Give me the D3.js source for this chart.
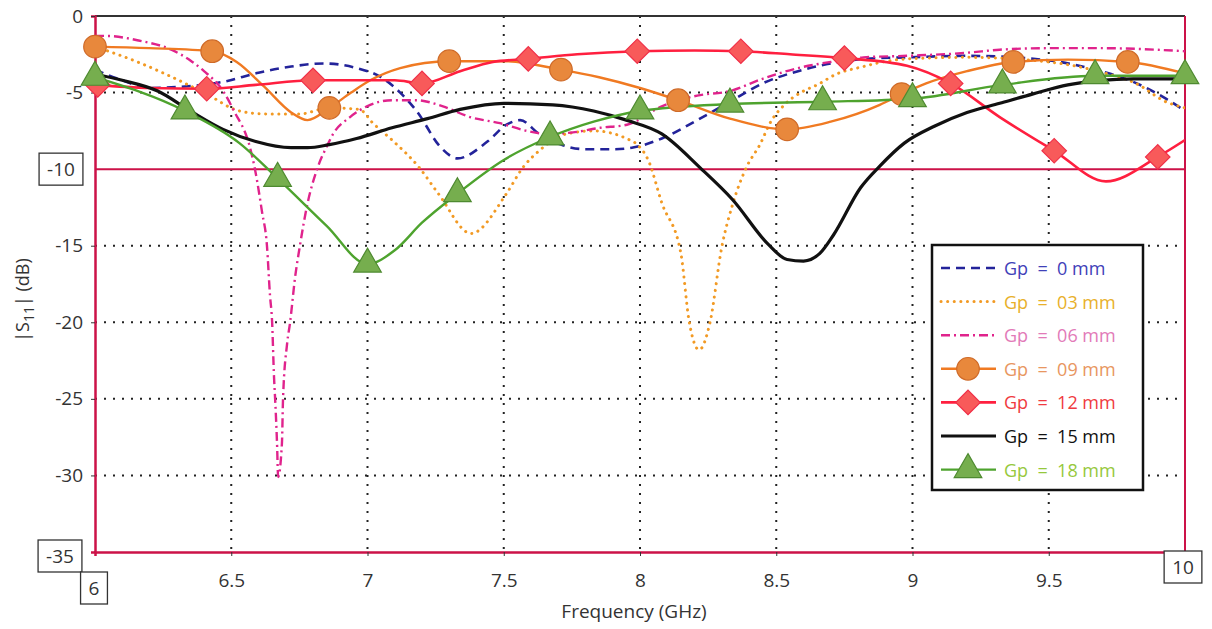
<!DOCTYPE html>
<html>
<head>
<meta charset="utf-8">
<script src="https://cdn.jsdelivr.net/npm/d3@7"></script>
<style>
  body { margin: 0; background: #fff; }
  text { font-family: "Open Sans", sans-serif; }
</style>
</head>
<body>
<svg width="1212" height="629"></svg>
<script>
// tick labels
const freqTicks = [6.5, 7, 7.5, 8, 8.5, 9, 9.5];
const dbTicks = [0, -5, -15, -20, -25, -30];
const boxedDb = [-10, -35];
const boxedFreq = [6, 10];

// series, [frequency GHz, |S11| dB]
const gp0 = [[6.0,-3.5],[6.1,-4.2],[6.2,-4.7],[6.33,-4.6],[6.47,-4.3],[6.6,-3.7],[6.72,-3.3],[6.84,-3.1],[6.96,-3.4],[7.05,-4.0],[7.12,-5.0],[7.18,-6.2],[7.27,-8.6],[7.33,-9.3],[7.44,-8.2],[7.51,-7.1],[7.56,-6.8],[7.63,-7.7],[7.71,-8.4],[7.8,-8.7],[7.9,-8.7],[7.97,-8.6],[8.08,-8.0],[8.21,-6.8],[8.33,-5.6],[8.45,-4.4],[8.58,-3.6],[8.7,-3.1],[8.82,-2.8],[8.98,-2.7],[9.2,-2.6],[9.5,-2.9],[9.69,-3.6],[9.81,-4.3],[9.93,-5.4],[10.0,-6.2]];
const gp3 = [[6.0,-2.0],[6.17,-3.1],[6.26,-3.8],[6.41,-5.1],[6.53,-6.2],[6.63,-6.4],[6.75,-6.4],[6.86,-6.0],[6.97,-6.1],[7.02,-7.0],[7.09,-8.1],[7.19,-9.9],[7.26,-11.6],[7.38,-14.2],[7.51,-11.6],[7.57,-9.9],[7.63,-8.8],[7.73,-7.7],[7.83,-7.5],[7.95,-8.0],[7.99,-8.4],[8.03,-9.4],[8.08,-12.2],[8.15,-15.5],[8.18,-19.9],[8.217,-21.8],[8.257,-20.0],[8.3,-15.1],[8.34,-12.3],[8.39,-9.9],[8.44,-8.4],[8.48,-6.9],[8.53,-5.8],[8.6,-4.9],[8.65,-4.5],[8.72,-3.8],[8.82,-3.3],[8.89,-3.0],[8.98,-2.8],[9.2,-2.7],[9.5,-3.0],[9.7,-3.7],[9.82,-4.4],[9.93,-5.6],[10.0,-6.0]];
const gp6 = [[6.0,-1.3],[6.04,-1.3],[6.16,-1.6],[6.28,-2.2],[6.35,-2.9],[6.4,-3.6],[6.47,-4.9],[6.51,-6.2],[6.569,-8.6],[6.587,-10],[6.613,-12.8],[6.631,-15],[6.642,-18.2],[6.65,-20],[6.657,-23.6],[6.661,-25],[6.668,-27.9],[6.672,-30.1],[6.686,-27.9],[6.69,-25],[6.705,-21.4],[6.716,-20],[6.734,-17.1],[6.752,-15],[6.778,-12.4],[6.815,-10],[6.851,-8.5],[6.874,-7.7],[6.936,-6.6],[6.998,-5.9],[7.09,-5.5],[7.18,-5.5],[7.277,-5.9],[7.376,-6.6],[7.486,-7.0],[7.585,-7.5],[7.659,-7.7],[7.754,-7.6],[7.853,-7.3],[7.952,-7.1],[8.08,-5.9],[8.21,-5.2],[8.33,-4.9],[8.45,-4.1],[8.58,-3.4],[8.7,-3.0],[8.82,-2.7],[8.98,-2.6],[9.2,-2.4],[9.32,-2.2],[9.5,-2.1],[9.69,-2.1],[10.0,-2.3]];
const gp9 = [[6.0,-2.0],[6.2,-2.1],[6.43,-2.3],[6.52,-3.0],[6.62,-4.6],[6.72,-6.3],[6.78,-6.8],[6.86,-6.0],[6.94,-5.0],[7.01,-4.2],[7.12,-3.4],[7.3,-2.95],[7.5,-2.95],[7.71,-3.5],[7.85,-4.0],[8.0,-4.7],[8.14,-5.5],[8.33,-6.7],[8.54,-7.4],[8.7,-6.9],[8.88,-5.8],[8.96,-5.1],[9.05,-4.4],[9.2,-3.6],[9.37,-3.0],[9.57,-2.85],[9.79,-3.0],[10.0,-3.75]];
const gp9Marks = [[6.0,-2.0],[6.43,-2.3],[6.86,-6.0],[7.3,-2.95],[7.71,-3.5],[8.14,-5.5],[8.54,-7.4],[8.96,-5.1],[9.37,-3.0],[9.79,-3.0]];
const gp12 = [[6.0,-4.5],[6.2,-4.7],[6.41,-4.75],[6.59,-4.5],[6.8,-4.2],[7.01,-4.2],[7.1,-4.2],[7.2,-4.4],[7.34,-3.6],[7.46,-3.0],[7.59,-2.8],[7.77,-2.5],[7.99,-2.3],[8.2,-2.25],[8.37,-2.3],[8.55,-2.5],[8.75,-2.75],[8.98,-3.25],[9.14,-4.4],[9.32,-6.6],[9.52,-8.8],[9.71,-10.8],[9.9,-9.2],[10.0,-8.1]];
const gp12Marks = [[6.01,-4.5],[6.41,-4.75],[6.8,-4.2],[7.2,-4.4],[7.59,-2.8],[7.99,-2.3],[8.37,-2.3],[8.75,-2.75],[9.14,-4.4],[9.52,-8.8],[9.9,-9.2]];
const gp15 = [[6.0,-3.8],[6.1,-4.2],[6.23,-4.9],[6.35,-6.2],[6.47,-7.4],[6.59,-8.2],[6.72,-8.6],[6.78,-8.6],[6.86,-8.4],[6.96,-8.0],[7.09,-7.3],[7.22,-6.7],[7.34,-6.1],[7.5,-5.7],[7.68,-5.8],[7.83,-6.2],[7.95,-6.8],[8.08,-7.7],[8.22,-9.9],[8.34,-12.0],[8.47,-14.9],[8.54,-15.9],[8.6,-16.0],[8.66,-15.5],[8.71,-14.3],[8.81,-11.2],[8.88,-9.8],[8.97,-8.3],[9.08,-7.2],[9.2,-6.3],[9.32,-5.7],[9.44,-5.1],[9.57,-4.5],[9.69,-4.2],[9.81,-4.1],[10.0,-4.1]];
const gp18 = [[6.0,-4.0],[6.33,-6.2],[6.53,-8.3],[6.67,-10.6],[6.85,-13.7],[7.0,-16.2],[7.1,-15.3],[7.2,-13.5],[7.33,-11.6],[7.5,-9.4],[7.67,-7.9],[7.83,-6.9],[8.0,-6.2],[8.33,-5.75],[8.67,-5.6],[9.0,-5.4],[9.33,-4.5],[9.67,-3.9],[10.0,-3.9]];
const gp18Marks = [[6.0,-4.0],[6.33,-6.2],[6.67,-10.6],[7.0,-16.2],[7.33,-11.6],[7.67,-7.9],[8.0,-6.2],[8.33,-5.75],[8.67,-5.6],[9.0,-5.4],[9.33,-4.5],[9.67,-3.9],[10.0,-3.9]];

const legendLabels = ["Gp = 0 mm", "Gp = 03 mm", "Gp = 06 mm", "Gp = 09 mm", "Gp = 12 mm", "Gp = 15 mm", "Gp = 18 mm"];

const series = [
  {name: legendLabels[0], pts: gp0, color: "#23239a", text: "#4040b8", dash: "9,6", w: 2.6},
  {name: legendLabels[1], pts: gp3, color: "#f29a24", text: "#e8b02a", dash: "0.1,6.5", w: 3, cap: "round"},
  {name: legendLabels[2], pts: gp6, color: "#e0238c", text: "#e27ab8", dash: "9,4,2,4", w: 2.4},
  {name: legendLabels[3], pts: gp9, marks: gp9Marks, shape: "circle", color: "#f07a22", fill: "#e8883c", edge: "#cf6a28", text: "#e89660", w: 2.4},
  {name: legendLabels[4], pts: gp12, marks: gp12Marks, shape: "diamond", color: "#ff1f3f", fill: "#f85a5a", edge: "#f03048", text: "#f03a40", w: 2.6},
  {name: legendLabels[5], pts: gp15, color: "#111", text: "#111", w: 3.2},
  {name: legendLabels[6], pts: gp18, marks: gp18Marks, shape: "triangle", color: "#4ea32e", fill: "#76ae4e", edge: "#4e8a30", text: "#96c83c", w: 2.4}
];

const svg = d3.select("svg");
const margin = {top: 16, right: 27, bottom: 77, left: 95};
const width = 1212 - margin.left - margin.right;
const height = 629 - margin.top - margin.bottom;
const g = svg.append("g").attr("transform", "translate(" + margin.left + "," + margin.top + ")");
const axisRed = "#cc1248";

const x = d3.scaleLinear().domain([6, 10]).range([0, width]);
const y = d3.scaleLinear().domain([-35, 0]).range([height, 0]);

// dotted grid
g.append("g")
  .selectAll("line").data(freqTicks).enter().append("line")
  .attr("x1", d => x(d)).attr("x2", d => x(d))
  .attr("y1", 0).attr("y2", height)
  .attr("stroke", "#222").attr("stroke-width", 2).attr("stroke-dasharray", "2,7");
g.append("g")
  .selectAll("line").data(dbTicks.filter(d => d !== 0)).enter().append("line")
  .attr("x1", 0).attr("x2", width)
  .attr("y1", d => y(d)).attr("y2", d => y(d))
  .attr("stroke", "#222").attr("stroke-width", 2).attr("stroke-dasharray", "2,7");

// frame
g.append("line").attr("x1", 0).attr("x2", width).attr("y1", y(0)).attr("y2", y(0))
  .attr("stroke", "#333").attr("stroke-width", 2);
g.append("line").attr("x1", 0).attr("x2", width).attr("y1", y(-10)).attr("y2", y(-10))
  .attr("stroke", axisRed).attr("stroke-width", 2);
g.append("line").attr("x1", width).attr("x2", width).attr("y1", 0).attr("y2", height)
  .attr("stroke", axisRed).attr("stroke-width", 2);

// axes
const yAxis = g.append("g")
  .call(d3.axisLeft(y).tickValues(dbTicks).tickSize(4).tickPadding(8).tickFormat(d => d));
const xAxis = g.append("g")
  .attr("transform", "translate(0," + height + ")")
  .call(d3.axisBottom(x).tickValues(freqTicks).tickSize(4).tickPadding(18).tickFormat(d => d));
[yAxis, xAxis].forEach(a => {
  a.select(".domain").attr("stroke", axisRed).attr("stroke-width", 2.5);
  a.selectAll(".tick line").attr("stroke", "#333");
  a.selectAll(".tick text").attr("fill", "#333").style("font-size", "19px")
    .style("font-family", "'Open Sans', sans-serif");
});

// boxed end labels
function boxLabel(px, py, label) {
  const t = g.append("text").attr("x", px).attr("y", py)
    .attr("text-anchor", "middle").attr("dominant-baseline", "central")
    .attr("fill", "#333").style("font-size", "19px").text(label);
  const b = t.node().getBBox();
  g.insert("rect", () => t.node())
    .attr("x", b.x - 8).attr("y", b.y - 3)
    .attr("width", b.width + 16).attr("height", b.height + 6)
    .attr("fill", "#fff").attr("stroke", "#333").attr("stroke-width", 1.3);
}
boxLabel(-34, y(boxedDb[0]), boxedDb[0]);
boxLabel(-35, y(boxedDb[1]) + 4, boxedDb[1]);
boxLabel(x(boxedFreq[0]) - 1, height + 36, boxedFreq[0]);
boxLabel(x(boxedFreq[1]) - 2, height + 15, boxedFreq[1]);

// axis titles
g.append("text")
  .attr("x", width / 2 - 6).attr("y", height + 66)
  .attr("text-anchor", "middle").attr("fill", "#333")
  .style("font-size", "19px").text("Frequency (GHz)");
const yt = svg.append("text")
  .attr("transform", "translate(29,300) rotate(-90)")
  .attr("text-anchor", "middle").attr("fill", "#333")
  .style("font-size", "18px");
yt.append("tspan").text("|S");
yt.append("tspan").attr("dy", 5).style("font-size", "14px").text("11");
yt.append("tspan").attr("dy", -5).text("| (dB)");

// curves
const line = d3.line()
  .x(d => x(d[0]))
  .y(d => y(d[1]))
  .curve(d3.curveMonotoneX);

svg.append("defs").append("clipPath").attr("id", "plot")
  .append("rect").attr("x", 0).attr("y", -2).attr("width", width).attr("height", height + 4);

const plot = g.append("g").attr("clip-path", "url(#plot)");

function symbolPath(shape) {
  if (shape === "circle") return d3.symbol().type(d3.symbolCircle).size(400)();
  if (shape === "diamond") return d3.symbol().type(d3.symbolSquare).size(300)();
  return d3.symbol().type(d3.symbolTriangle).size(330)();
}

series.forEach(s => {
  plot.append("path")
    .datum(s.pts)
    .attr("d", line)
    .attr("fill", "none")
    .attr("stroke", s.color)
    .attr("stroke-width", s.w)
    .attr("stroke-linecap", s.cap || "butt")
    .attr("stroke-dasharray", s.dash || null);
});

series.filter(s => s.marks).forEach(s => {
  g.append("g").selectAll("path").data(s.marks).enter().append("path")
    .attr("d", symbolPath(s.shape))
    .attr("transform", d => "translate(" + x(d[0]) + "," + y(d[1]) + ")" + (s.shape === "diamond" ? " rotate(45)" : ""))
    .attr("fill", s.fill)
    .attr("stroke", s.edge)
    .attr("stroke-width", 1.2);
});

// legend
const lg = svg.append("g").attr("transform", "translate(932,245)");
lg.append("rect").attr("width", 211).attr("height", 245)
  .attr("fill", "#fff").attr("stroke", "#111").attr("stroke-width", 2.5);
series.forEach((s, i) => {
  const ry = 23 + i * 33.6;
  lg.append("line").attr("x1", 9).attr("x2", 64).attr("y1", ry).attr("y2", ry)
    .attr("stroke", s.color).attr("stroke-width", s.w)
    .attr("stroke-linecap", s.cap || "butt")
    .attr("stroke-dasharray", s.dash || null);
  if (s.marks) {
    lg.append("path").attr("d", symbolPath(s.shape))
      .attr("transform", "translate(36," + ry + ")" + (s.shape === "diamond" ? " rotate(45)" : ""))
      .attr("fill", s.fill).attr("stroke", s.edge).attr("stroke-width", 1.2);
  }
  lg.append("text").attr("x", 72).attr("y", ry).attr("dominant-baseline", "central")
    .attr("fill", s.text).style("font-size", "18px").style("white-space", "pre")
    .text(s.name.replace(/ = /, "  =  "));
});
</script>
</body>
</html>
